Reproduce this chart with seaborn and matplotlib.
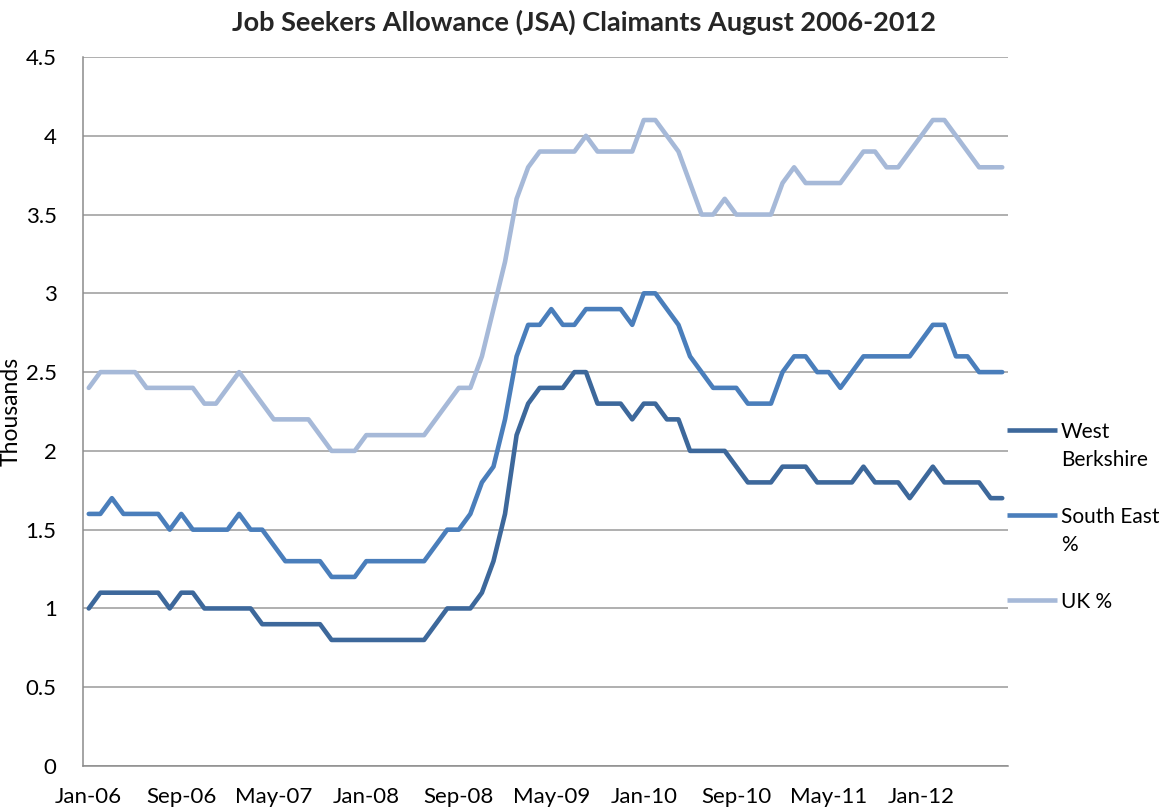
import matplotlib
matplotlib.use("Agg")
import matplotlib.pyplot as plt
from matplotlib.lines import Line2D
import numpy as np
import pandas as pd
import seaborn as sns

# Monthly categories, Jan 2006 .. Aug 2012
months = pd.date_range("2006-01-01", periods=80, freq="MS").strftime("%b-%y").tolist()

west_berkshire = [
    1.0, 1.1, 1.1, 1.1, 1.1, 1.1, 1.1, 1.0, 1.1, 1.1,
    1.0, 1.0, 1.0, 1.0, 1.0, 0.9, 0.9, 0.9, 0.9, 0.9,
    0.9, 0.8, 0.8, 0.8, 0.8, 0.8, 0.8, 0.8, 0.8, 0.8,
    0.9, 1.0, 1.0, 1.0, 1.1, 1.3, 1.6, 2.1, 2.3, 2.4,
    2.4, 2.4, 2.5, 2.5, 2.3, 2.3, 2.3, 2.2, 2.3, 2.3,
    2.2, 2.2, 2.0, 2.0, 2.0, 2.0, 1.9, 1.8, 1.8, 1.8,
    1.9, 1.9, 1.9, 1.8, 1.8, 1.8, 1.8, 1.9, 1.8, 1.8,
    1.8, 1.7, 1.8, 1.9, 1.8, 1.8, 1.8, 1.8, 1.7, 1.7,
]
south_east = [
    1.6, 1.6, 1.7, 1.6, 1.6, 1.6, 1.6, 1.5, 1.6, 1.5,
    1.5, 1.5, 1.5, 1.6, 1.5, 1.5, 1.4, 1.3, 1.3, 1.3,
    1.3, 1.2, 1.2, 1.2, 1.3, 1.3, 1.3, 1.3, 1.3, 1.3,
    1.4, 1.5, 1.5, 1.6, 1.8, 1.9, 2.2, 2.6, 2.8, 2.8,
    2.9, 2.8, 2.8, 2.9, 2.9, 2.9, 2.9, 2.8, 3.0, 3.0,
    2.9, 2.8, 2.6, 2.5, 2.4, 2.4, 2.4, 2.3, 2.3, 2.3,
    2.5, 2.6, 2.6, 2.5, 2.5, 2.4, 2.5, 2.6, 2.6, 2.6,
    2.6, 2.6, 2.7, 2.8, 2.8, 2.6, 2.6, 2.5, 2.5, 2.5,
]
uk = [
    2.4, 2.5, 2.5, 2.5, 2.5, 2.4, 2.4, 2.4, 2.4, 2.4,
    2.3, 2.3, 2.4, 2.5, 2.4, 2.3, 2.2, 2.2, 2.2, 2.2,
    2.1, 2.0, 2.0, 2.0, 2.1, 2.1, 2.1, 2.1, 2.1, 2.1,
    2.2, 2.3, 2.4, 2.4, 2.6, 2.9, 3.2, 3.6, 3.8, 3.9,
    3.9, 3.9, 3.9, 4.0, 3.9, 3.9, 3.9, 3.9, 4.1, 4.1,
    4.0, 3.9, 3.7, 3.5, 3.5, 3.6, 3.5, 3.5, 3.5, 3.5,
    3.7, 3.8, 3.7, 3.7, 3.7, 3.7, 3.8, 3.9, 3.9, 3.8,
    3.8, 3.9, 4.0, 4.1, 4.1, 4.0, 3.9, 3.8, 3.8, 3.8,
]

series_names = ["West Berkshire", "South East %", "UK %"]
legend_lines = [["West", "Berkshire"], ["South East", "%"], ["UK %"]]
series_colors = ["#3D689B", "#4A7EBB", "#A6B9D8"]
y_ticks = [0, 0.5, 1, 1.5, 2, 2.5, 3, 3.5, 4, 4.5]
tick_step = 8

df = pd.DataFrame({
    "month": np.tile(np.arange(len(months)), 3),
    "value": west_berkshire + south_east + uk,
    "series": np.repeat(series_names, len(months)),
})

sns.set_theme(style="white")
plt.rcParams["font.family"] = ["Lato", "DejaVu Sans"]

W, H = 1167, 811
fig = plt.figure(figsize=(W / 100, H / 100), dpi=100)
left, right, top, bottom = 83, 1008, 57, 766
ax = fig.add_axes([left / W, 1 - bottom / H, (right - left) / W, (bottom - top) / H])

sns.lineplot(
    data=df, x="month", y="value", hue="series",
    palette=dict(zip(series_names, series_colors)),
    hue_order=series_names, linewidth=3.3, legend=False, ax=ax,
)
for line in ax.lines:
    line.set_solid_joinstyle("round")
    line.set_solid_capstyle("round")

ax.set_xlim(-0.5, len(months) - 0.5)
ax.set_ylim(0, 4.5)
ax.set_yticks(y_ticks)
ax.set_yticklabels([f"{v:g}" for v in y_ticks])
ax.set_xticks(range(0, len(months), tick_step))
ax.set_xticklabels(months[::tick_step])
ax.set_xlabel("")
ax.set_ylabel("Thousands", fontsize=16.5, color="#000000", labelpad=3)

ax.yaxis.grid(True, color="#9A9A9A", linewidth=1.1)
ax.xaxis.grid(False)
ax.set_axisbelow(True)
for side in ("top", "right"):
    ax.spines[side].set_visible(False)
for side in ("left", "bottom"):
    ax.spines[side].set_color("#8C8C8C")
    ax.spines[side].set_linewidth(1.1)

ax.tick_params(axis="x", length=0, pad=15, labelsize=16, colors="#000000")
ax.tick_params(axis="y", length=0, pad=19, labelsize=16, colors="#000000")

fig.suptitle("Job Seekers Allowance (JSA) Claimants August 2006-2012",
             x=0.5, y=1 - 22 / H, va="center", fontsize=19.5, fontweight="bold")

# Legend on the right: a short line beside each wrapped label
legend_y = [430, 515, 600]
for name, color, y, lines in zip(series_names, series_colors, legend_y, legend_lines):
    fig.add_artist(Line2D([1007 / W, 1057 / W], [1 - y / H, 1 - y / H],
                          color=color, linewidth=3.3, solid_capstyle="butt"))
    for k, txt in enumerate(lines):
        fig.text(1061 / W, 1 - (y + 2 + 28 * k) / H, txt, va="center", ha="left",
                 fontsize=15, color="#000000")

fig.savefig("out.png", dpi=100, facecolor="white")
